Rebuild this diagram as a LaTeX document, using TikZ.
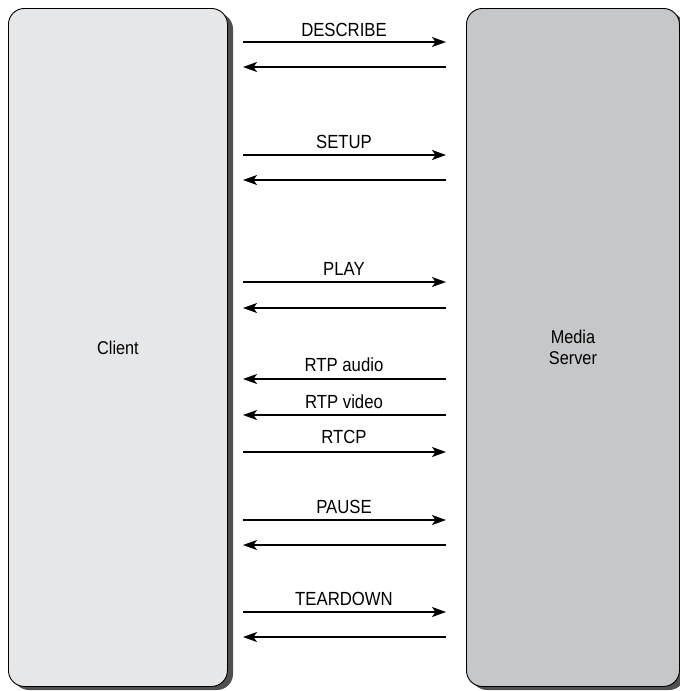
\documentclass[tikz,border=0pt]{standalone}
\usepackage{fontspec}
\setmainfont{Liberation Sans}[FakeStretch=0.88]
\usetikzlibrary{arrows.meta}
\definecolor{clientfill}{HTML}{E6E7E8}
\definecolor{serverfill}{HTML}{C6C7C9}
\definecolor{shadowcol}{HTML}{505050}
\tikzset{
  box/.style={draw=black, line width=0.9pt, rounded corners=16pt, inner sep=0pt,
    minimum height=678pt, align=center, font=\fontsize{18.5}{21.5}\selectfont},
  shadowbox/.style={fill=shadowcol, rounded corners=16pt},
  msg/.style={line width=1.5pt, -{Stealth[length=14pt,width=10pt,inset=3.5pt]}},
  lbl/.style={font=\fontsize{19}{22}\selectfont, inner sep=0pt, anchor=base}
}
\begin{document}
\begin{tikzpicture}[x=1pt,y=-1pt]
\useasboundingbox (0,0) rectangle (680,691);
% shadows
\fill[shadowbox] (13,13) rectangle (233,690);
\fill[shadowbox] (471,13) rectangle (685,690);
% boxes
\node[box, fill=clientfill, minimum width=219pt, anchor=north west] (client) at (8,8) {Client};
\node[box, fill=serverfill, minimum width=213pt, anchor=north west] (server) at (466,8) {Media\\Server};
% arrow ends
\foreach \n/\y in {d1/42,d2/67,s1/155,s2/180,p1/282,p2/308,a/379,v/415,r/452,q1/520,q2/545,t1/612,t2/637}{
  \coordinate (\n L) at (243,\y);
  \coordinate (\n R) at (446,\y);
}
% messages
\draw[msg] (d1L) -- (d1R);
\draw[msg] (d2R) -- (d2L);
\draw[msg] (s1L) -- (s1R);
\draw[msg] (s2R) -- (s2L);
\draw[msg] (p1L) -- (p1R);
\draw[msg] (p2R) -- (p2L);
\draw[msg] (aR) -- (aL);
\draw[msg] (vR) -- (vL);
\draw[msg] (rL) -- (rR);
\draw[msg] (q1L) -- (q1R);
\draw[msg] (q2R) -- (q2L);
\draw[msg] (t1L) -- (t1R);
\draw[msg] (t2R) -- (t2L);
% labels
\node[lbl] (ld) at (344,36) {DESCRIBE};
\node[lbl] (ls) at (344,148) {SETUP};
\node[lbl] (lp) at (344,275) {PLAY};
\node[lbl] (la) at (344,371) {RTP audio};
\node[lbl] (lv) at (344,408) {RTP video};
\node[lbl] (lr) at (344,443) {RTCP};
\node[lbl] (lq) at (344,513) {PAUSE};
\node[lbl] (lt) at (344,605) {TEARDOWN};
\end{tikzpicture}
\end{document}
